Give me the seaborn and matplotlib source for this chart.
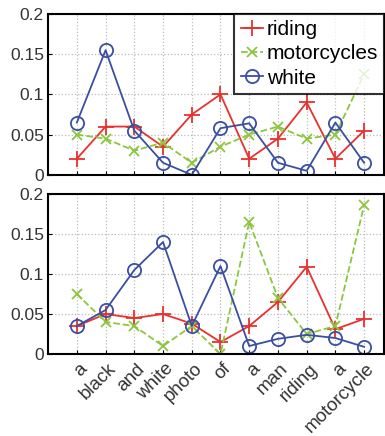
import numpy as np
import pandas as pd
import seaborn as sns
import matplotlib
matplotlib.use("Agg")
import matplotlib.pyplot as plt
import matplotlib.transforms as mtransforms

words = ["a", "black", "and", "white", "photo", "of", "a", "man", "riding", "a", "motorcycle"]
series = ["riding", "motorcycles", "white"]

top_riding = [0.02, 0.06, 0.06, 0.035, 0.075, 0.1, 0.02, 0.045, 0.09, 0.02, 0.055]
top_motorcycles = [0.05, 0.045, 0.03, 0.04, 0.015, 0.035, 0.05, 0.06, 0.045, 0.05, 0.125]
top_white = [0.065, 0.155, 0.055, 0.015, 0.0, 0.058, 0.064, 0.015, 0.005, 0.065, 0.015]

bot_riding = [0.035, 0.05, 0.045, 0.05, 0.038, 0.015, 0.035, 0.065, 0.109, 0.031, 0.044]
bot_motorcycles = [0.075, 0.04, 0.035, 0.01, 0.035, 0.0, 0.165, 0.07, 0.025, 0.035, 0.186]
bot_white = [0.035, 0.055, 0.105, 0.14, 0.035, 0.11, 0.01, 0.019, 0.024, 0.02, 0.009]

colors = {"riding": "#e8312f", "motorcycles": "#8cc63f", "white": "#3a4fa0"}
markers = {"riding": "+", "motorcycles": "x", "white": "o"}
styles = {"riding": "-", "motorcycles": "--", "white": "-"}
msizes = {"riding": 11, "motorcycles": 7, "white": 9.5}

plt.rcParams['font.family'] = ['Liberation Sans', 'DejaVu Sans']

fig = plt.figure(figsize=(3.85, 4.36), dpi=100)
ax1 = fig.add_axes([0.125, 0.599, 0.873, 0.369])
ax2 = fig.add_axes([0.125, 0.188, 0.873, 0.367])

pos = np.arange(len(words))
for ax, vals in [(ax1, [top_riding, top_motorcycles, top_white]),
                 (ax2, [bot_riding, bot_motorcycles, bot_white])]:
    for name, v in zip(series, vals):
        sns.lineplot(x=pos, y=v, ax=ax, color=colors[name], marker=markers[name],
                     linestyle=styles[name], linewidth=1.3, markersize=msizes[name],
                     markerfacecolor="none", markeredgecolor=colors[name],
                     markeredgewidth=1.3, label=name)
    ax.set_xlim(-1, 10.7)
    ax.set_ylim(0, 0.2)
    ax.set_yticks([0, 0.05, 0.1, 0.15, 0.2])
    ax.set_yticklabels(["0", "0.05", "0.1", "0.15", "0.2"], fontsize=12.5, color="#333333")
    ax.set_xticks(pos)
    ax.grid(True, linestyle=":", color="#bbbbbb", linewidth=0.9)
    for s in ax.spines.values():
        s.set_linewidth(1.5)
        s.set_color("black")
    ax.tick_params(length=3, direction="in", pad=3)

ax2.get_legend().remove()
ax1.set_xticklabels([])
ax2.set_xticklabels(words, rotation=45, ha="right", va="center", rotation_mode="anchor",
                    fontsize=13.5, color="#333333")
shift = mtransforms.ScaledTranslation(8 / 100, -8 / 100, fig.dpi_scale_trans)
for lab in ax2.get_xticklabels():
    lab.set_transform(lab.get_transform() + shift)

leg = ax1.legend(loc="upper right", borderaxespad=0, fontsize=15, frameon=True,
                 fancybox=False, handlelength=1.1, handletextpad=0.15,
                 labelspacing=0.25, borderpad=0.3)
leg.get_frame().set_edgecolor("black")
leg.get_frame().set_linewidth(1.5)

fig.savefig("out.png", dpi=100)
